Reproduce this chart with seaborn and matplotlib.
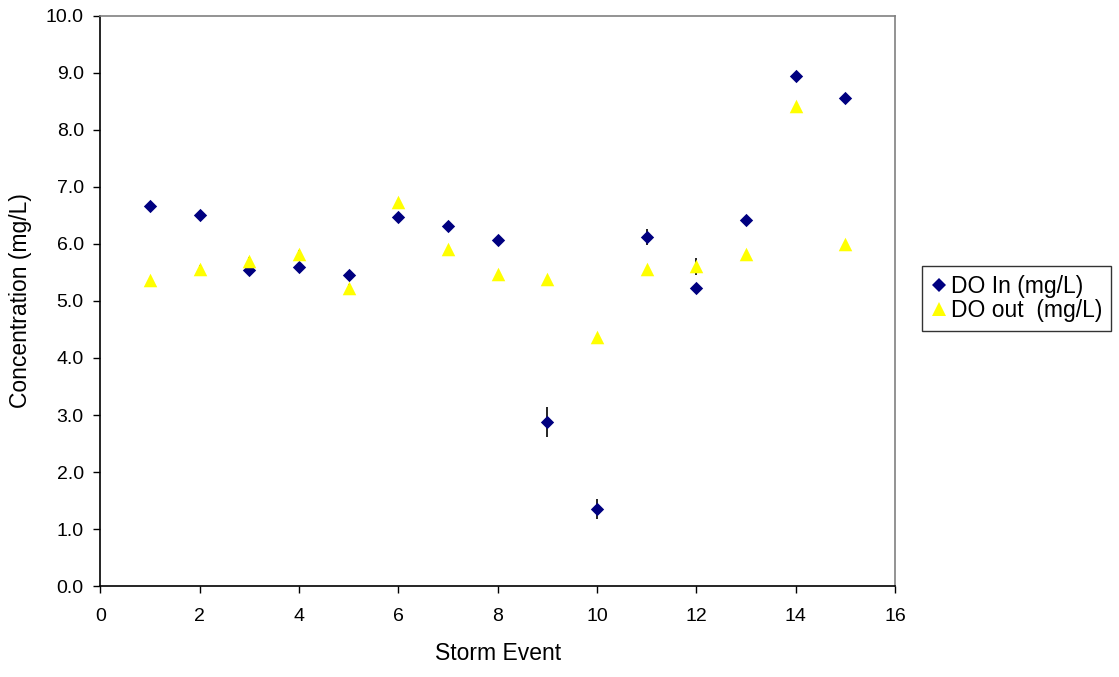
import matplotlib
matplotlib.use("Agg")
import matplotlib.pyplot as plt
import seaborn as sns
import pandas as pd
import numpy as np
from matplotlib.lines import Line2D

storm_event = [1, 2, 3, 4, 5, 6, 7, 8, 9, 10, 11, 12, 13, 14, 15]
do_in = [6.66, 6.51, 5.55, 5.60, 5.45, 6.48, 6.32, 6.07, 2.88, 1.35, 6.13, 5.23, 6.42, 8.94, 8.56]
do_in_err = [0.05, 0.05, 0.05, 0.05, 0.05, 0.05, 0.05, 0.05, 0.26, 0.17, 0.14, 0.05, 0.05, 0.05, 0.05]
do_out = [5.36, 5.57, 5.70, 5.83, 5.23, 6.74, 5.91, 5.47, 5.38, 4.36, 5.57, 5.61, 5.83, 8.42, 6.00]
do_out_err = [0.06, 0.06, 0.08, 0.06, 0.06, 0.05, 0.05, 0.05, 0.04, 0.05, 0.05, 0.15, 0.05, 0.06, 0.04]
series_names = ["DO In (mg/L)", "DO out  (mg/L)"]

sns.set_theme(style="white")
plt.rcParams["font.family"] = ["Liberation Sans", "DejaVu Sans"]
plt.rcParams["text.color"] = "black"
plt.rcParams["axes.labelcolor"] = "black"
plt.rcParams["xtick.color"] = "black"
plt.rcParams["ytick.color"] = "black"

df = pd.DataFrame({
    "event": storm_event * 2,
    "value": do_in + do_out,
    "err": do_in_err + do_out_err,
    "series": [series_names[0]] * len(storm_event) + [series_names[1]] * len(storm_event),
})

fig = plt.figure(figsize=(11.19, 6.77), dpi=100)
ax = fig.add_axes([0.0898, 0.1344, 0.7100, 0.8420])

colors = {series_names[0]: "#000080", series_names[1]: "#FFFF00"}
markers = {series_names[0]: "D", series_names[1]: "^"}
sizes = {series_names[0]: 46, series_names[1]: 95}

for name in series_names:
    sub = df[df["series"] == name]
    ax.errorbar(sub["event"], sub["value"], yerr=sub["err"], fmt="none",
                ecolor="black", elinewidth=1.2, capsize=0, zorder=1)

for name in series_names:
    sub = df[df["series"] == name]
    sns.scatterplot(data=sub, x="event", y="value", color=colors[name],
                    marker=markers[name], s=sizes[name], linewidth=0,
                    ax=ax, zorder=3, legend=False)

ax.set_xlim(0, 16)
ax.set_ylim(0, 10)
ax.set_xticks(np.arange(0, 17, 2))
ax.set_yticks(np.arange(0, 10.01, 1.0))
ax.set_yticklabels([f"{v:.1f}" for v in np.arange(0, 10.01, 1.0)])
ax.tick_params(axis="both", which="major", labelsize=14, direction="out",
               length=5, width=1, color="black", labelcolor="black",
               left=True, bottom=True)
ax.tick_params(axis="x", pad=11)
ax.tick_params(axis="y", pad=7)
ax.set_xlabel("Storm Event", fontsize=16.5, labelpad=12, color="black")
ax.set_ylabel("Concentration (mg/L)", fontsize=16.5, labelpad=10, color="black")

for side in ["left", "bottom"]:
    ax.spines[side].set_color("black")
    ax.spines[side].set_linewidth(1.2)
for side in ["top", "right"]:
    ax.spines[side].set_color("#808080")
    ax.spines[side].set_linewidth(1.2)

handles = [
    Line2D([], [], linestyle="none", marker="D", markersize=7, color="#000080", markeredgewidth=0),
    Line2D([], [], linestyle="none", marker="^", markersize=10, color="#FFFF00", markeredgewidth=0),
]
leg = fig.legend(handles, series_names, loc="upper left",
                 bbox_to_anchor=(922 / 1119, 1 - 266 / 677),
                 frameon=True, fontsize=16.5, handlelength=0.65, handletextpad=0.2,
                 borderpad=0.4, labelspacing=0.02, fancybox=False, borderaxespad=0)
leg.get_frame().set_edgecolor("black")
leg.get_frame().set_linewidth(1.0)
for t in leg.get_texts():
    t.set_color("black")

fig.savefig("out.png", dpi=100, facecolor="white")
